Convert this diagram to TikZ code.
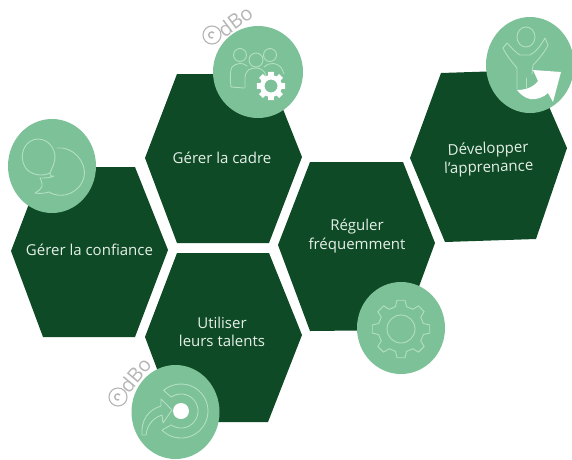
\documentclass[tikz,border=0pt]{standalone}
\usepackage{fontspec}
\setmainfont{Open Sans}
\definecolor{hexgreen}{HTML}{0F4A26}
\definecolor{discgreen}{HTML}{7CC197}
\definecolor{iconline}{HTML}{B4DFC4}
\definecolor{markgrey}{HTML}{B5B5B5}
\definecolor{labelpale}{HTML}{E4F0E8}
\tikzset{
  hexa/.style={fill=hexgreen,draw=none},
  discfill/.style={fill=discgreen,draw=none},
  iconl/.style={draw=iconline,line width=0.9pt,line join=round,line cap=round},
  iconw/.style={fill=white,draw=none},
  hexlabel/.style={text=labelpale,font=\fontsize{15}{18.5}\selectfont,align=center,inner sep=0pt},
  wmark/.style={text=markgrey,font=\fontsize{20}{20}\selectfont,inner sep=0pt},
  wmarkc/.style={draw=markgrey,line width=1.1pt,fill=none}
}
\begin{document}
\begin{tikzpicture}[x=1pt,y=-1pt]
\useasboundingbox (0,0) rectangle (572,459);
\fill[white] (0,0) rectangle (572,459);
% hexagons
\fill[hexa] (11,251)--(43,167)--(135,167)--(168,250)--(135,337)--(43,337)--cycle;
\fill[hexa] (145,158)--(177,74)--(269,74)--(302,157)--(269,243)--(177,243)--cycle;
\fill[hexa] (145,337)--(177,253)--(269,253)--(302,335)--(268,422)--(177,422)--cycle;
\fill[hexa] (278,245)--(310,162)--(403,162)--(435,243)--(403,330)--(310,331)--cycle;
\fill[hexa] (410,158)--(441,73)--(533,70)--(567,148)--(536,239)--(445,242)--cycle;
% discs
\fill[discfill] (258,72) ellipse [x radius=45,y radius=46];
\fill[discfill] (530,65) ellipse [x radius=44,y radius=48];
\fill[discfill] (175.5,412) ellipse [x radius=44,y radius=47];
\fill[discfill] (401,328) ellipse [x radius=44,y radius=46];
\fill[discfill] (52,166) ellipse [x radius=44,y radius=47];
% labels
\node[hexlabel] (confiance) at (89.5,250) {Gérer la confiance};
\node[hexlabel] (cadre) at (222,158) {Gérer la cadre};
\node[hexlabel] (talents) at (222,332) {Utiliser\\leurs talents};
\node[hexlabel] (reguler) at (357,236) {Réguler\\fréquemment};
\node[hexlabel,rotate=2] (apprenance) at (488.5,159) {Développer\\l’apprenance};
% people + gear icon
\draw[iconl] (240,55) circle (6.5);
\draw[iconl] (270,55) circle (6.5);
\draw[iconl] (256,60) circle (7);
\draw[iconl] (247,66) .. controls (243,62) and (236,63) .. (232,67) .. controls (230,70) and (230,80) .. (231,87) -- (244,88);
\draw[iconl] (264,67) .. controls (268,62) and (278,62) .. (282,69) -- (284,74);
\draw[iconl] (245,88) -- (245,77) .. controls (246,70) and (250,68) .. (256,68) .. controls (261,68) and (265,71) .. (266,76);
\fill[iconw,even odd rule,shift={(271,86)}]
  (-15:11) foreach \a in {0,45,...,315} { -- (\a-15:11) -- (\a-11:14.5) -- (\a+11:14.5) -- (\a+15:11) } -- cycle
  (0,0) circle (6.5);
% person + arrow icon
\draw[iconl] (526,37) ellipse [x radius=9,y radius=10];
\draw[iconl] (517,89) -- (517,68) .. controls (512,62) and (506,55) .. (503,48) -- (507,43) .. controls (511,47) and (516,53) .. (520,55) -- (530,55) .. controls (536,52) and (541,45) .. (545,38) -- (548,45) .. controls (545,52) and (538,60) .. (533,65) -- (532,74);
\draw[iconl] (526,78) -- (526,88);
\fill[iconw] (533,70) -- (561,72) -- (553,102) -- (548,93) .. controls (544,97) and (537,100) .. (530,99) .. controls (525,98) and (520,94) .. (517,90) .. controls (524,90) and (533,88) .. (538,81) -- cycle;
% return arrow icon
\fill[iconw] (181,411) circle (8);
\draw[iconl,shift={(181,411)}] plot[domain=-130:135,samples=40] (\x:27) -- plot[domain=125:-125,samples=40] (\x:17) -- cycle;
\draw[iconl] (142,435) .. controls (141,420) and (148,410) .. (161,406) -- (161,399) -- (172,410) -- (163,423) -- (162,415) .. controls (153,418) and (147,425) .. (146,435) -- cycle;
% outlined gear icon
\draw[iconl,shift={(401,329)}]
  (-14:23) foreach \a in {0,45,...,315} { -- (\a-14:23) -- (\a-8:29) -- (\a+8:29) -- (\a+14:23) } -- cycle;
\draw[iconl] (401,329) circle (14);
% speech bubbles icon
\draw[iconl] (50,173) .. controls (42,177) and (30,175) .. (25,167) .. controls (18,155) and (25,139) .. (38,139) .. controls (50,139) and (58,152) .. (54,163) .. controls (53,167) and (51,170) .. (50,173) .. controls (50,176) and (52,177) .. (54,176) .. controls (50,178) and (45,178) .. (40,178) .. controls (42,182) and (43,186) .. (41,188) .. controls (39,191) and (36,192) .. (35,193) .. controls (40,194) and (46,193) .. (49,192) .. controls (62,200) and (80,193) .. (84,177) .. controls (87,161) and (72,146) .. (57,148);
% watermarks
\draw[wmarkc] (212,35) circle (9);
\draw[markgrey,line width=1.4pt] (214,33) arc (-40:-300:3);
\node[wmark,rotate=37] (dbotop) at (235,21) {dBo};
\draw[wmarkc] (118,397) circle (9);
\draw[markgrey,line width=1.4pt] (120,395) arc (-40:-300:3);
\node[wmark,rotate=50] (dbobottom) at (135,375) {dBo};
\end{tikzpicture}
\end{document}
